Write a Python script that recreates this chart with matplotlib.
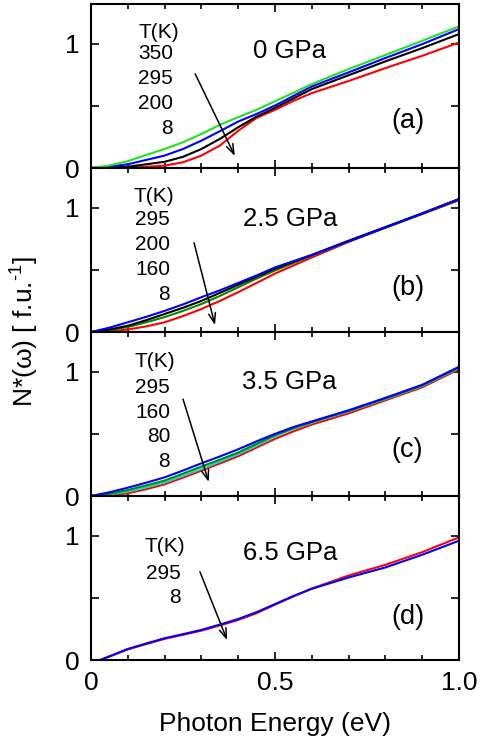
import matplotlib
matplotlib.use("Agg")
import matplotlib.pyplot as plt
from matplotlib.ticker import MultipleLocator, FixedLocator

plt.rcParams['font.family'] = ['Liberation Sans', 'DejaVu Sans']
plt.rcParams['mathtext.fontset'] = 'custom'
plt.rcParams['mathtext.rm'] = 'Liberation Sans'
plt.rcParams['mathtext.it'] = 'Liberation Sans'

# ---------------- data ----------------
energy = [0, 0.05, 0.1, 0.15, 0.2, 0.25, 0.3, 0.35, 0.4, 0.45, 0.5, 0.55, 0.6, 0.7, 0.8, 0.9, 1.0]
energy_d = [0.025, 0.05, 0.1, 0.15, 0.2, 0.25, 0.3, 0.35, 0.4, 0.45, 0.5, 0.55, 0.6, 0.7, 0.8, 0.9, 1.0]

# (a) 0 GPa
a_350 = [0, 0.02, 0.055, 0.105, 0.153, 0.207, 0.274, 0.347, 0.41, 0.468, 0.538, 0.605, 0.675, 0.796, 0.909, 1.024, 1.14]
a_295 = [0, 0.01, 0.03, 0.065, 0.10, 0.153, 0.22, 0.296, 0.374, 0.435, 0.503, 0.58, 0.656, 0.77, 0.885, 0.997, 1.118]
a_200 = [0, 0.003, 0.01, 0.03, 0.05, 0.09, 0.153, 0.234, 0.328, 0.414, 0.484, 0.56, 0.635, 0.747, 0.858, 0.965, 1.078]
a_8 = [0, 0.0, 0.002, 0.01, 0.019, 0.046, 0.10, 0.18, 0.30, 0.403, 0.468, 0.54, 0.603, 0.70, 0.804, 0.903, 1.01]

# (b) 2.5 GPa
b_295 = [0, 0.035, 0.078, 0.122, 0.17, 0.222, 0.28, 0.335, 0.395, 0.455, 0.52, 0.57, 0.62, 0.73, 0.84, 0.955, 1.07]
b_200 = [0, 0.02, 0.05, 0.095, 0.145, 0.195, 0.25, 0.315, 0.38, 0.445, 0.51, 0.565, 0.62, 0.735, 0.845, 0.955, 1.07]
b_160 = [0, 0.015, 0.04, 0.078, 0.12, 0.17, 0.225, 0.29, 0.36, 0.43, 0.495, 0.555, 0.615, 0.73, 0.84, 0.95, 1.065]
b_8 = [0, 0.006, 0.02, 0.045, 0.078, 0.128, 0.185, 0.25, 0.32, 0.395, 0.47, 0.535, 0.60, 0.725, 0.84, 0.95, 1.06]

# (c) 3.5 GPa
c_295 = [0, 0.03, 0.067, 0.107, 0.15, 0.205, 0.263, 0.318, 0.376, 0.44, 0.50, 0.555, 0.60, 0.69, 0.79, 0.895, 1.04]
c_160 = [0, 0.018, 0.048, 0.085, 0.124, 0.18, 0.237, 0.292, 0.35, 0.42, 0.49, 0.545, 0.595, 0.685, 0.785, 0.89, 1.035]
c_80 = [0, 0.012, 0.035, 0.07, 0.108, 0.162, 0.218, 0.276, 0.336, 0.405, 0.48, 0.54, 0.59, 0.68, 0.78, 0.885, 1.03]
c_8 = [0, 0.005, 0.022, 0.055, 0.094, 0.148, 0.204, 0.262, 0.32, 0.39, 0.46, 0.52, 0.575, 0.665, 0.77, 0.875, 1.02]

# (d) 6.5 GPa
d_295 = [0, 0.03, 0.089, 0.133, 0.175, 0.208, 0.242, 0.285, 0.33, 0.385, 0.45, 0.515, 0.573, 0.664, 0.745, 0.847, 0.96]
d_8 = [0, 0.027, 0.085, 0.128, 0.17, 0.203, 0.236, 0.278, 0.322, 0.377, 0.445, 0.512, 0.575, 0.68, 0.766, 0.868, 0.987]

pressures = ["0 GPa", "2.5 GPa", "3.5 GPa", "6.5 GPa"]
panel_tags = ["(a)", "(b)", "(c)", "(d)"]
temps_a = ["350", "295", "200", "8"]
temps_b = ["295", "200", "160", "8"]
temps_c = ["295", "160", "80", "8"]
temps_d = ["295", "8"]

GREEN = "#22e01e"
DKGREEN = "#008a00"
CYAN = "#00e0e0"

panels = [
    dict(x=energy, ys=[a_8, a_200, a_295, a_350], colors=["red", "black", "blue", GREEN],
         temps=temps_a, tk_xy=(0.183, 1.09), num_x=0.223, num_y0=0.92, dy=0.2,
         arrow=((0.283, 0.758), (0.391, 0.097)), gpa_y=0.94, tag_y=0.38),
    dict(x=energy, ys=[b_8, b_160, b_200, b_295], colors=["red", DKGREEN, "black", "blue"],
         temps=temps_b, tk_xy=(0.171, 1.09), num_x=0.215, num_y0=0.905, dy=0.2,
         arrow=((0.28, 0.718), (0.337, 0.056)), gpa_y=0.91, tag_y=0.355),
    dict(x=energy, ys=[c_8, c_80, c_160, c_295], colors=["red", CYAN, DKGREEN, "blue"],
         temps=temps_c, tk_xy=(0.173, 1.08), num_x=0.215, num_y0=0.87, dy=0.197,
         arrow=((0.25, 0.78), (0.32, 0.113)), gpa_y=0.92, tag_y=0.37),
    dict(x=energy_d, ys=[d_8, d_295], colors=["red", "blue"],
         temps=temps_d, tk_xy=(0.2, 0.91), num_x=0.245, num_y0=0.70, dy=0.195,
         arrow=((0.296, 0.71), (0.37, 0.16)), gpa_y=0.86, tag_y=0.35),
]

fig = plt.figure(figsize=(4.8, 7.45), dpi=100)
fig.subplots_adjust(left=91/480, right=459/480, top=1-4/745, bottom=1-660/745, hspace=0)
axes = fig.subplots(4, 1, sharex=True)

for i, (ax, p) in enumerate(zip(axes, panels)):
    for y, c in zip(p["ys"], p["colors"]):
        ax.plot(p["x"], y, color=c, lw=1.5, solid_joinstyle='round', solid_capstyle='round')
    ax.set_xlim(0, 1.0)
    ax.set_ylim(0, 1.32)
    ax.yaxis.set_major_locator(FixedLocator([0, 1]))
    ax.yaxis.set_minor_locator(FixedLocator([0.5]))
    ax.xaxis.set_major_locator(MultipleLocator(0.5))
    ax.xaxis.set_minor_locator(MultipleLocator(0.1))
    ax.tick_params(which='both', direction='in', top=True, right=True, width=1.2,
                   labelsize=19, pad=8)
    ax.tick_params(axis='y', which='both', length=6)
    ax.tick_params(axis='x', which='major', length=6)
    ax.tick_params(axis='x', which='minor', length=3.5)
    ax.yaxis.set_major_formatter(plt.FuncFormatter(lambda v, pos: "%d" % round(v)))
    for s in ax.spines.values():
        s.set_linewidth(1.5)

    ax.text(p["tk_xy"][0], p["tk_xy"][1], "T(K)", ha='center', va='center', fontsize=15)
    for k, t in enumerate(p["temps"]):
        ax.text(p["num_x"], p["num_y0"] - k * p["dy"], t, ha='right', va='center', fontsize=15)
    (x0, y0), (x1, y1) = p["arrow"]
    ax.annotate("", xy=(x1, y1), xytext=(x0, y0),
                arrowprops=dict(arrowstyle='->,head_length=0.7,head_width=0.25', lw=1.1, color='black',
                                shrinkA=0, shrinkB=0))
    ax.text(0.54, p["gpa_y"], pressures[i], ha='center', va='center', fontsize=18.5)
    ax.text(0.86, p["tag_y"], panel_tags[i], ha='center', va='center', fontsize=19.5)

axes[-1].xaxis.set_major_formatter(plt.FuncFormatter(lambda v, pos: "0" if v == 0 else "%.1f" % v))
axes[-1].set_xlabel("Photon Energy (eV)", fontsize=19, labelpad=12)
fig.text(25/480, 1 - 332/745, r"N*($\omega$) [ f.u.$^{\text{-}1}$]", rotation=90,
         ha='center', va='center', fontsize=19)

fig.savefig("out.png", dpi=100)
